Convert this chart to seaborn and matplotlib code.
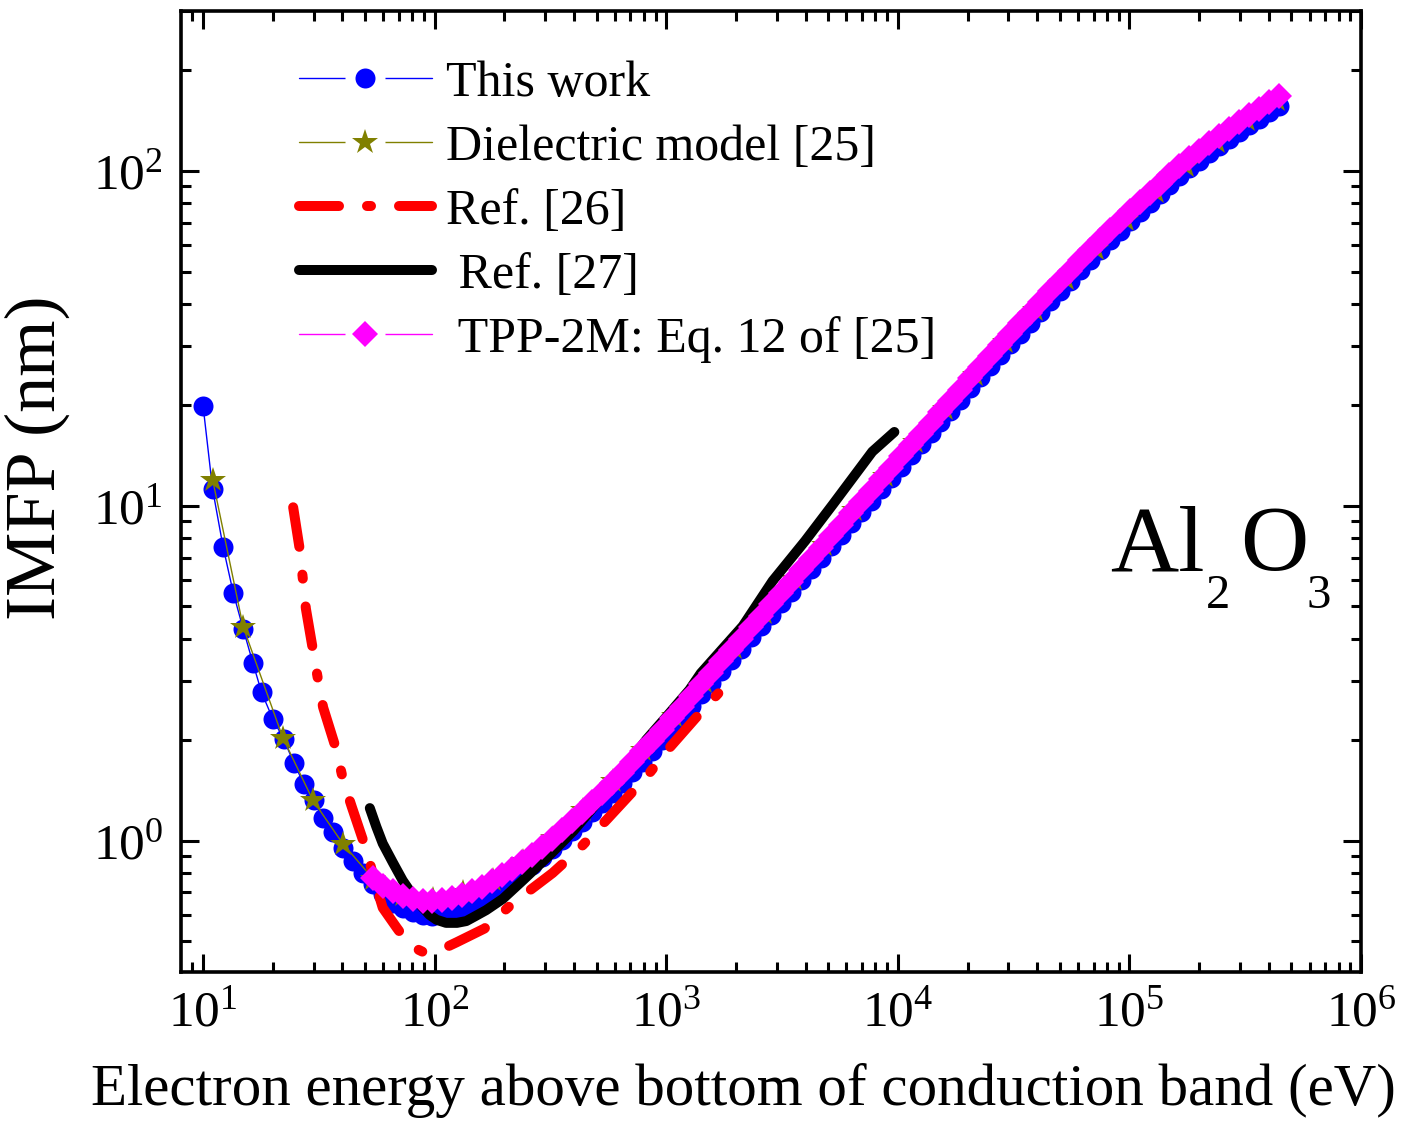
import matplotlib
matplotlib.use("Agg")
import matplotlib.pyplot as plt
import seaborn as sns
from matplotlib.lines import Line2D
from matplotlib.ticker import LogLocator, NullFormatter

# ---------------- data ----------------
this_E = [10, 11.0, 12.2, 13.5, 14.9, 16.4, 17.9, 20.0, 22.3, 24.7, 27.2, 30.1, 32.9, 36.3, 40.1, 44.3, 49.0,
          54.1, 59.7, 65.9, 72.8, 80.4, 88.7, 97.9, 108.1, 119.4, 131.8, 145.5, 160.7, 177.4,
          195.9, 216.3, 238.8, 263.6, 291.1, 321.4, 354.8, 391.7, 432.5, 477.5, 527.2, 582.1, 642.7, 709.6,
          783.4, 865.0, 955.0, 1054,
          1164, 1285, 1419, 1567, 1730, 1910, 2109, 2328, 2570, 2838, 3133, 3459, 3819, 4217, 4656, 5140,
          5675, 6266, 6918, 7638, 8433, 9311, 10280,
          11350, 12530, 13840, 15280, 16870, 18620,
          20560, 22700, 25060, 27670, 30550,
          33730, 37240, 41110, 45390, 50120, 55330,
          61090, 67450, 74470, 82220, 90780, 100200,
          110700, 122200, 134900, 148900, 164400, 181600,
          200400, 221300, 244300, 269800, 297800, 328900,
          363100, 400900, 442600]
this_imfp = [19.9, 11.2, 7.55, 5.5, 4.29, 3.40, 2.77, 2.31, 2.01, 1.70, 1.48, 1.32, 1.17, 1.06, 0.953, 0.87, 0.80,
             0.741, 0.692, 0.653, 0.627, 0.610, 0.600, 0.597, 0.601, 0.612, 0.630, 0.650, 0.676, 0.706,
             0.735, 0.767, 0.805, 0.847, 0.895, 0.946, 1.005, 1.069, 1.138, 1.213, 1.297, 1.387, 1.489, 1.600,
             1.722, 1.854, 2.000, 2.163,
             2.339, 2.529, 2.735, 2.958, 3.199, 3.459, 3.741, 4.046, 4.375, 4.732, 5.117, 5.534, 5.984, 6.471,
             6.998, 7.568, 8.185, 8.851, 9.572, 10.35, 11.19, 12.11, 13.09,
             14.13, 15.28, 16.48, 17.82, 19.23, 20.75,
             22.39, 24.15, 26.06, 28.12, 30.34,
             32.66, 35.16, 37.84, 40.74, 43.75, 46.99,
             50.47, 54.08, 57.94, 61.94, 66.22, 70.79,
             75.51, 80.35, 85.51, 90.78, 96.16, 101.6,
             107.2, 112.7, 118.6, 124.5, 130.6, 136.8,
             143.2, 149.6, 156.3]

diel_E = [11.0, 14.9, 22.1, 29.8, 40.1, 54.1, 73, 98, 132, 178, 240, 324, 437, 590, 796, 1075, 1450, 1960,
          2640, 3570, 4810, 6500, 8770, 11840, 15980, 21570, 29120, 39300, 53000, 71600, 96700, 130500,
          176000, 238000, 321000, 433000]
diel_imfp = [11.97, 4.35, 2.03, 1.32, 0.98, 0.77, 0.69, 0.67, 0.70, 0.76, 0.87, 1.02, 1.23, 1.51, 1.87, 2.35,
             2.97, 3.77, 4.78, 6.05, 7.65, 9.7, 12.3, 15.5, 19.5, 24.5, 30.8, 38.4, 47.6, 58.6, 71.5, 86.5,
             103.5, 122, 142, 163]

ref26_E = [24.5, 26.2, 27.8, 29.9, 31.3, 33.0, 37.7, 40.3, 43.9, 50.9, 55.0, 59.7, 68.5, 78, 89.1, 105,
           124.5, 164, 217, 323, 422, 557, 828, 1010, 1345, 1833]
ref26_imfp = [9.89, 7.35, 4.93, 3.67, 3.05, 2.50, 1.86, 1.51, 1.26, 0.93, 0.76, 0.63, 0.55, 0.486, 0.465,
              0.47, 0.497, 0.546, 0.649, 0.80, 0.946, 1.16, 1.56, 1.86, 2.33, 2.94]

ref27_E = [52.5, 56, 59.7, 66, 72.8, 83.7, 95, 102, 112, 125, 137, 150, 167, 197, 240, 316, 398, 500, 631,
           820, 1000, 1260, 1410, 2140, 2880, 3980, 5250, 7760, 9660]
ref27_imfp = [1.25, 1.10, 0.98, 0.86, 0.76, 0.66, 0.60, 0.58, 0.568, 0.568, 0.575, 0.595, 0.62, 0.67, 0.76,
              0.91, 1.07, 1.29, 1.58, 2.0, 2.34, 2.82, 3.16, 4.37, 5.96, 7.85, 10.1, 14.5, 16.6]

tpp_E = this_E[17:]
tpp_imfp = [0.771, 0.733, 0.705, 0.684, 0.670, 0.662, 0.661, 0.665, 0.675, 0.689, 0.706, 0.728, 0.755,
            0.788, 0.822, 0.863, 0.908, 0.959, 1.014, 1.077, 1.145, 1.219, 1.300, 1.390, 1.486, 1.595,
            1.714, 1.845, 1.987, 2.143, 2.318,
            2.506, 2.710, 2.931, 3.170, 3.428, 3.706, 4.009, 4.335, 4.688, 5.070, 5.483, 5.930, 6.412,
            6.934, 7.498, 8.109, 8.770, 9.484, 10.26, 11.09, 11.99, 12.98, 14.03,
            15.14, 16.37, 17.66, 19.09, 20.61, 22.23,
            23.99, 25.88, 27.92, 30.13, 32.51,
            35.00, 37.67, 40.55, 43.65, 46.88, 50.35,
            54.08, 57.95, 62.08, 66.37, 70.96, 75.85,
            80.91, 86.10, 91.62, 97.27, 103.0, 108.9,
            114.9, 120.8, 127.1, 133.4, 139.9, 146.6,
            153.4, 160.3, 167.5]

labels = ["This work", "Dielectric model [25]", "Ref. [26]", " Ref. [27]", " TPP-2M: Eq. 12 of [25]"]
x_label = "Electron energy above bottom of conduction band (eV)"
y_label = "IMFP (nm)"

# ---------------- style ----------------
sns.set_style("ticks")
plt.rcParams["font.family"] = ["Liberation Serif", "DejaVu Serif"]
plt.rcParams["mathtext.fontset"] = "custom"
plt.rcParams["mathtext.rm"] = "Liberation Serif"
plt.rcParams["mathtext.it"] = "Liberation Serif:italic"
plt.rcParams["mathtext.bf"] = "Liberation Serif:bold"
for key in ("text.color", "axes.labelcolor", "xtick.color", "ytick.color", "axes.edgecolor",
            "xtick.labelcolor", "ytick.labelcolor"):
    plt.rcParams[key] = "black"

BLUE, OLIVE, RED, BLACK, MAG = "#0000FF", "#808000", "#FF0000", "#000000", "#FF00FF"

fig = plt.figure(figsize=(14.05, 11.24), dpi=100)
ax = fig.add_axes([0.1288, 0.1352, 0.8399, 0.8550])
ax.set_xscale("log")
ax.set_yscale("log")

common = dict(ax=ax, errorbar=None, legend=False)
sns.lineplot(x=this_E, y=this_imfp, color=BLUE, linewidth=1.0, marker="o", markersize=14.4,
             markeredgewidth=0, zorder=2, **common)
sns.lineplot(x=diel_E, y=diel_imfp, color=OLIVE, linewidth=1.0, marker="*", markersize=19,
             markeredgewidth=0, zorder=3, **common)
sns.lineplot(x=ref26_E, y=ref26_imfp, color=RED, linewidth=7.2, linestyle=(0, (4, 2.8, 0.4, 2.8)),
             dash_capstyle="round", solid_capstyle="round", zorder=4, **common)
sns.lineplot(x=ref27_E, y=ref27_imfp, color=BLACK, linewidth=7.2, solid_capstyle="round",
             solid_joinstyle="round", zorder=5, **common)
sns.lineplot(x=tpp_E, y=tpp_imfp, color=MAG, linewidth=1.0, marker="D", markersize=13.2,
             markeredgewidth=0, zorder=6, **common)

ax.set_xlim(8.03, 1e6)
ax.set_ylim(0.405, 300)

# ticks
for axis in (ax.xaxis, ax.yaxis):
    axis.set_major_locator(LogLocator(base=10, numticks=20))
    axis.set_minor_locator(LogLocator(base=10, subs=[2, 3, 4, 5, 6, 7, 8, 9], numticks=100))
    axis.set_minor_formatter(NullFormatter())
ax.tick_params(which="both", direction="in", top=True, right=True, width=2.2, color="black",
               labelcolor="black")
ax.tick_params(which="major", length=13, labelsize=37, pad=13)
ax.tick_params(which="minor", length=7.5)
for s in ax.spines.values():
    s.set_linewidth(2.6)
    s.set_color("black")

ax.set_xlabel(x_label, fontsize=42.5, color="black")
ax.set_ylabel(y_label, fontsize=52, color="black")
ax.xaxis.set_label_coords(0.477, -0.095)
ax.yaxis.set_label_coords(-0.094, 0.535)

# legend (proxy handles, with a white gap around the markers)
def marker_handle(color, marker, ms, gap_ms):
    line = Line2D([], [], color=color, linewidth=1.0)
    gap = Line2D([], [], linestyle="none", marker="o", markersize=gap_ms, markerfacecolor="white",
                 markeredgewidth=0)
    mk = Line2D([], [], linestyle="none", marker=marker, markersize=ms, markerfacecolor=color,
                markeredgewidth=0)
    return (line, gap, mk)

handles = [
    marker_handle(BLUE, "o", 14.4, 28.8),
    marker_handle(OLIVE, "*", 19, 28.8),
    Line2D([], [], color=RED, linewidth=7.2, linestyle=(0, (4, 2.8, 0.4, 2.8)), dash_capstyle="round"),
    Line2D([], [], color=BLACK, linewidth=7.2, solid_capstyle="round"),
    marker_handle(MAG, "D", 13.2, 28.8),
]
leg = ax.legend(handles, labels, loc="upper left", bbox_to_anchor=(0.100, 0.949), frameon=False,
                fontsize=36, handlelength=2.66, handletextpad=0.28, labelspacing=0.35,
                borderpad=0, borderaxespad=0, numpoints=1, labelcolor="black")

# Al2O3 label
tkw = dict(transform=ax.transAxes, ha="left", va="baseline", color="black")
ax.text(0.7873, 0.4183, "Al", fontsize=68, **tkw)
ax.text(0.8686, 0.3788, "2", fontsize=35, **tkw)
ax.text(0.8975, 0.4183, "O", fontsize=68, **tkw)
ax.text(0.9542, 0.3788, "3", fontsize=35, **tkw)

fig.savefig("out.png", dpi=100)
